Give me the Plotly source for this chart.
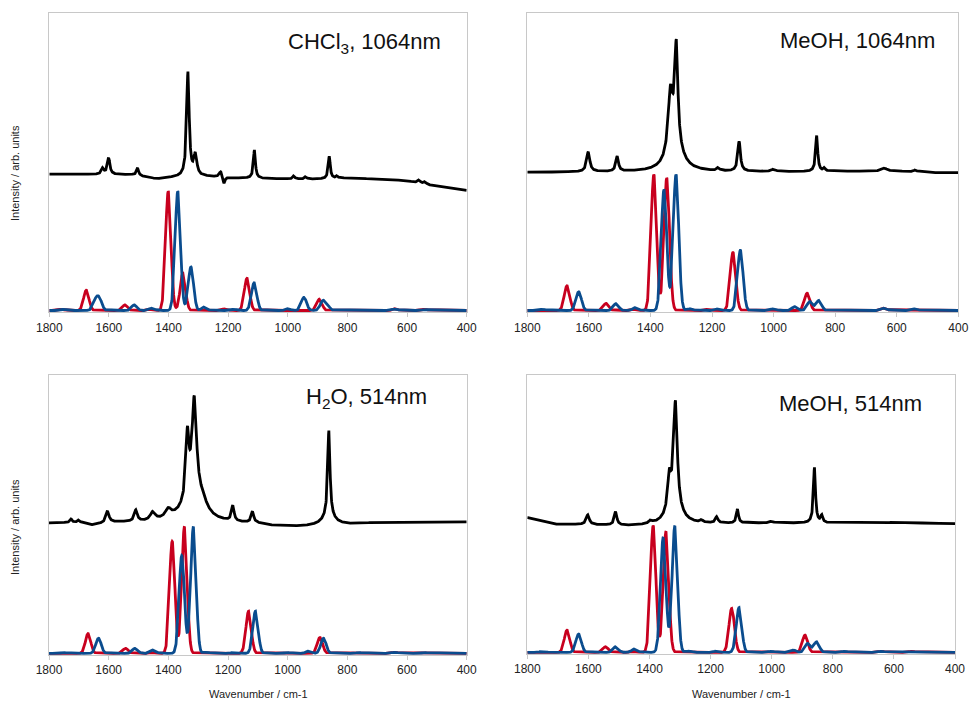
import numpy as np
import plotly.graph_objects as go

# ---------------- data ----------------
panel_titles = ["CHCl<sub>3</sub>, 1064nm", "MeOH, 1064nm", "H<sub>2</sub>O, 514nm", "MeOH, 514nm"]
x_ticks = [1800, 1600, 1400, 1200, 1000, 800, 600, 400]

# experimental (black) spectra: baseline anchors + bands (position, height, half-width)
tl_base_x = [1800, 1520, 1440, 1384, 1272, 1183, 1071, 903, 791, 601, 512, 400]
tl_base_y = [0.458, 0.456, 0.442, 0.447, 0.450, 0.445, 0.443, 0.441, 0.445, 0.436, 0.419, 0.403]
tl_pos = [1621, 1601, 1504, 1335, 1310, 1225, 1214, 1112, 980, 940, 861, 835, 560, 540]
tl_amp = [0.02, 0.055, 0.025, 0.35, 0.07, 0.02, -0.025, 0.095, 0.01, 0.008, 0.075, 0.008, 0.01, 0.008]
tl_hw = [5, 5, 4, 5, 6, 6, 4, 4, 4, 4, 4, 4, 5, 5]

tr_base_x = [1800, 1400, 1000, 600, 450, 400]
tr_base_y = [0.464, 0.466, 0.466, 0.468, 0.462, 0.463]
tr_pos = [1602, 1508, 1316, 1335, 1320, 1180, 1112, 1000, 860, 835, 640, 540]
tr_amp = [0.067, 0.05, 0.33, 0.2, 0.08, 0.01, 0.1, 0.008, 0.12, 0.01, 0.01, 0.006]
tr_hw = [6, 5, 6, 9, 28, 5, 5, 8, 4, 4, 10, 6]

bl_base_x = [1800, 1700, 1655, 1600, 1450, 1350, 1250, 1100, 1050, 950, 900, 800, 700, 400]
bl_base_y = [0.468, 0.470, 0.460, 0.470, 0.470, 0.475, 0.470, 0.465, 0.458, 0.455, 0.458, 0.462, 0.470, 0.472]
bl_pos = [1726, 1700, 1604, 1509, 1452, 1400, 1313, 1336, 1318, 1285, 1184, 1118, 862, 862]
bl_amp = [0.012, 0.008, 0.04, 0.04, 0.03, 0.03, 0.34, 0.22, 0.09, 0.03, 0.055, 0.04, 0.31, 0.03]
bl_hw = [4, 4, 6, 6, 10, 12, 9, 6, 35, 20, 5, 5, 4.5, 25]

br_base_x = [1800, 1750, 1704, 1600, 1458, 1300, 1066, 800, 600, 400]
br_base_y = [0.486, 0.475, 0.462, 0.460, 0.456, 0.462, 0.466, 0.466, 0.468, 0.464]
br_pos = [1602, 1511, 1396, 1315, 1335, 1318, 1230, 1180, 1112, 1000, 860, 836]
br_amp = [0.035, 0.048, 0.01, 0.375, 0.12, 0.06, 0.008, 0.022, 0.05, 0.006, 0.2, 0.025]
br_hw = [6, 5, 6, 7, 7, 25, 5, 5, 4, 8, 4, 4]

# calculated spectra (red / blue): band positions and heights
tl_red_pos = [1760, 1676, 1546, 1460, 1401, 1352, 1210, 1137, 894, 640, 540]
tl_red_amp = [0.004, 0.068, 0.019, 0.005, 0.40, 0.125, 0.006, 0.108, 0.038, 0.006, 0.004]
tl_blue_pos = [1750, 1645, 1632, 1515, 1455, 1369, 1325, 1280, 1180, 1113, 1000, 946, 883, 868, 640, 540]
tl_blue_amp = [0.004, 0.03, 0.035, 0.019, 0.008, 0.40, 0.146, 0.012, 0.004, 0.093, 0.006, 0.044, 0.03, 0.015, 0.005, 0.003]

tr_red_pos = [1671, 1544, 1450, 1389, 1347, 1210, 1132, 891, 640]
tr_red_amp = [0.083, 0.024, 0.005, 0.456, 0.445, 0.005, 0.195, 0.058, 0.008]
tr_blue_pos = [1750, 1633, 1512, 1448, 1356, 1317, 1270, 1180, 1108, 1000, 931, 882, 853, 640, 540]
tr_blue_amp = [0.004, 0.063, 0.023, 0.01, 0.406, 0.456, 0.006, 0.006, 0.202, 0.006, 0.013, 0.03, 0.034, 0.008, 0.006]

bl_red_pos = [1669, 1543, 1450, 1387, 1346, 1131, 892, 640]
bl_red_amp = [0.071, 0.018, 0.004, 0.402, 0.455, 0.151, 0.057, 0.004]
bl_blue_pos = [1750, 1634, 1512, 1450, 1355, 1316, 1270, 1180, 1108, 1000, 930, 880, 760, 640, 540]
bl_blue_amp = [0.003, 0.054, 0.018, 0.012, 0.351, 0.455, 0.004, 0.004, 0.151, 0.003, 0.008, 0.054, 0.003, 0.004, 0.003]

br_red_pos = [1670, 1544, 1450, 1388, 1346, 1131, 891, 640, 540]
br_red_amp = [0.08, 0.02, 0.004, 0.456, 0.436, 0.158, 0.062, 0.004, 0.004]
br_blue_pos = [1750, 1632, 1511, 1449, 1355, 1317, 1270, 1180, 1107, 1000, 929, 882, 853, 760, 640]
br_blue_amp = [0.004, 0.066, 0.02, 0.012, 0.415, 0.456, 0.005, 0.005, 0.161, 0.004, 0.008, 0.032, 0.038, 0.004, 0.004]

calc_fwhm = 21.0

# ---------------- build curves ----------------
wn = np.arange(400.0, 1800.01, 0.5)


def experimental(bx, by, pos, amp, hw):
    y = np.interp(wn, bx[::-1], by[::-1])
    for p, a, w in zip(pos, amp, hw):
        y = y + a * w * w / ((wn - p) ** 2 + w * w)
    return y


def calculated(pos, amp):
    s = calc_fwhm / 2.3548
    y = np.zeros_like(wn)
    for p, a in zip(pos, amp):
        y = y + a * np.exp(-((wn - p) ** 2) / (2 * s * s))
    return y


panels = [
    (experimental(tl_base_x, tl_base_y, tl_pos, tl_amp, tl_hw), calculated(tl_red_pos, tl_red_amp), calculated(tl_blue_pos, tl_blue_amp)),
    (experimental(tr_base_x, tr_base_y, tr_pos, tr_amp, tr_hw), calculated(tr_red_pos, tr_red_amp), calculated(tr_blue_pos, tr_blue_amp)),
    (experimental(bl_base_x, bl_base_y, bl_pos, bl_amp, bl_hw), calculated(bl_red_pos, bl_red_amp), calculated(bl_blue_pos, bl_blue_amp)),
    (experimental(br_base_x, br_base_y, br_pos, br_amp, br_hw), calculated(br_red_pos, br_red_amp), calculated(br_blue_pos, br_blue_amp)),
]

W, H = 969, 701
# plot-area boxes in pixels: (left, right, top, bottom)
boxes = [(49.3, 466.7, 12.7, 312.3), (527.3, 958.3, 12.7, 312.3),
         (49.0, 466.7, 375.0, 655.0), (527.3, 955.0, 375.0, 654.0)]

RED = "#C8001E"
BLUE = "#0A4C8E"
FRAME = "#c8c8c8"
FONT = "Liberation Sans, Arial, sans-serif"

fig = go.Figure()
for i, (blk, red, blue) in enumerate(panels):
    xa = "x" if i == 0 else f"x{i+1}"
    ya = "y" if i == 0 else f"y{i+1}"
    for yy, col in ((blk, "black"), (red, RED), (blue, BLUE)):
        fig.add_trace(go.Scatter(x=wn, y=yy, mode="lines", xaxis=xa, yaxis=ya,
                                 line=dict(color=col, width=2.8), showlegend=False,
                                 hoverinfo="skip"))
    l, r, t, b = boxes[i]
    ax_x = dict(domain=[l / W, r / W], range=[1800, 400], tickvals=x_ticks,
                ticktext=[str(v) for v in x_ticks], showgrid=False, zeroline=False,
                showline=True, linecolor=FRAME, linewidth=1, mirror=True,
                ticks="outside", ticklen=4, tickcolor=FRAME,
                tickfont=dict(family=FONT, size=12, color="#222"),
                anchor=ya, fixedrange=True, automargin=False)
    ax_y = dict(domain=[1 - b / H, 1 - t / H], range=[-0.006, 1.0], showgrid=False,
                zeroline=False, showticklabels=False, ticks="", showline=True,
                linecolor=FRAME, linewidth=1, mirror=True, anchor=xa, fixedrange=True,
                automargin=False)
    kx = "xaxis" if i == 0 else f"xaxis{i+1}"
    ky = "yaxis" if i == 0 else f"yaxis{i+1}"
    fig.layout[kx] = ax_x
    fig.layout[ky] = ax_y

# panel titles (right edge x px, centre y px)
title_pos = [(443, 43), (937, 41), (429, 398), (924, 403)]
for txt, (px, py) in zip(panel_titles, title_pos):
    fig.add_annotation(text=txt, x=px / W, y=1 - py / H, xref="paper", yref="paper",
                       xanchor="right", yanchor="middle", showarrow=False,
                       font=dict(family=FONT, size=22, color="#111"))

# axis titles
for cy in (173, 527):
    fig.add_annotation(text="Intensity / arb. units", x=15 / W, y=1 - cy / H,
                       xref="paper", yref="paper", textangle=-90, showarrow=False,
                       xanchor="center", yanchor="middle",
                       font=dict(family=FONT, size=11, color="#222"))
for cx in (258, 741):
    fig.add_annotation(text="Wavenumber / cm-1", x=cx / W, y=1 - 694 / H,
                       xref="paper", yref="paper", showarrow=False,
                       xanchor="center", yanchor="middle",
                       font=dict(family=FONT, size=11, color="#222"))

fig.update_layout(width=W, height=H, margin=dict(l=0, r=0, t=0, b=0, autoexpand=False),
                  paper_bgcolor="white", plot_bgcolor="white")

fig.write_html("out.html")
